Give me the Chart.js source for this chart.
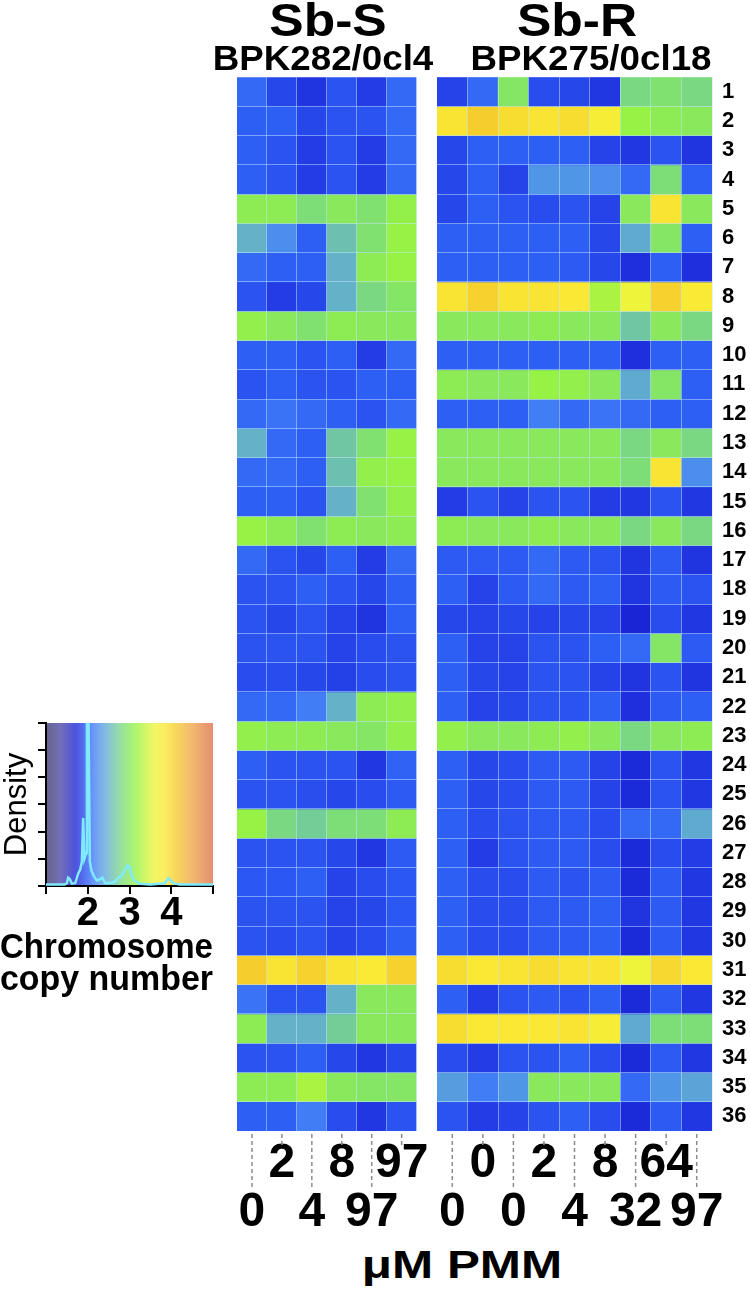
<!DOCTYPE html>
<html>
<head>
<meta charset="utf-8">
<script src="https://cdn.jsdelivr.net/npm/chart.js@4.4.1/dist/chart.umd.min.js"></script>
<style>
  html, body { margin: 0; padding: 0; background: #fff; }
  body { width: 750px; height: 1298px; position: relative; overflow: hidden; font-family: "Liberation Sans", Arial, sans-serif; }
  canvas { position: absolute; }
  .head { position: absolute; font-weight: bold; color: #000; white-space: nowrap; text-align: center; }
</style>
</head>
<body>
<canvas id="density" width="236" height="300" style="left:0px;top:700px"></canvas>
<canvas id="hmS" width="211" height="1194" style="left:227px;top:47px"></canvas>
<canvas id="hmR" width="323" height="1194" style="left:427px;top:47px"></canvas>

<div class="head" style="left:228px;top:-3px;width:200px;font-size:46px;line-height:46px;transform:scaleX(1.12)">Sb-S</div>
<div class="head" style="left:477px;top:-3px;width:200px;font-size:46px;line-height:46px;transform:scaleX(1.12)">Sb-R</div>
<div class="head" style="left:193px;top:40px;width:260px;font-size:35px;line-height:35px;transform:scaleX(1.05)">BPK282/0cl4</div>
<div class="head" style="left:461px;top:40px;width:260px;font-size:35px;line-height:35px;transform:scaleX(1.05)">BPK275/0cl18</div>
<div class="head" style="left:312px;top:1246px;width:300px;font-size:38px;line-height:38px;transform:scaleX(1.3)">μM PMM</div>

<script>
// drug concentration of each column (µM PMM)
const concS = ["0", "2", "4", "8", "97", "97"];
const concR = ["0", "0", "0", "2", "4", "8", "32", "64", "97"];
const chromosomes = Array.from({ length: 36 }, (_, i) => String(i + 1));

// estimated chromosome copy number, one row per chromosome
const sbS = [
  [2.05, 1.9, 1.8, 1.95, 1.85, 2.05],
  [2.0, 2.0, 1.9, 1.95, 1.95, 2.05],
  [2.0, 1.95, 1.85, 1.95, 1.85, 2.05],
  [2.0, 1.95, 1.85, 1.95, 1.85, 2.05],
  [3.05, 3.05, 2.85, 3.0, 2.9, 3.12],
  [2.5, 2.25, 2.0, 2.6, 2.9, 3.15],
  [2.05, 2.0, 2.0, 2.5, 3.05, 3.15],
  [1.95, 1.85, 1.9, 2.5, 2.8, 2.95],
  [3.1, 3.0, 2.9, 3.05, 3.0, 3.0],
  [2.0, 2.0, 1.95, 2.0, 1.85, 2.05],
  [1.95, 2.0, 1.95, 1.95, 2.0, 2.0],
  [2.05, 2.1, 2.05, 2.0, 1.95, 2.05],
  [2.5, 2.05, 2.0, 2.65, 2.9, 3.15],
  [2.05, 2.05, 2.0, 2.6, 3.1, 3.15],
  [2.0, 2.0, 1.95, 2.5, 2.9, 3.1],
  [3.15, 3.05, 2.9, 3.05, 3.0, 3.05],
  [2.05, 1.95, 1.9, 2.0, 1.85, 2.05],
  [1.95, 1.95, 2.0, 1.95, 1.9, 2.0],
  [1.95, 1.9, 1.95, 1.88, 1.8, 2.0],
  [1.95, 1.95, 1.95, 1.88, 1.92, 1.95],
  [1.92, 1.92, 1.9, 1.87, 1.92, 1.95],
  [2.05, 2.05, 2.15, 2.5, 3.05, 3.1],
  [3.1, 3.05, 3.05, 3.0, 2.95, 3.1],
  [2.0, 1.95, 1.95, 1.95, 1.82, 2.02],
  [1.95, 1.95, 1.93, 1.9, 1.92, 1.98],
  [3.15, 2.8, 2.7, 2.85, 2.85, 3.05],
  [1.95, 1.95, 1.95, 1.9, 1.82, 1.98],
  [1.97, 1.97, 2.0, 1.88, 1.92, 1.97],
  [1.95, 1.95, 1.95, 1.88, 1.9, 1.97],
  [1.95, 1.92, 1.95, 1.88, 1.92, 2.0],
  [4.1, 3.9, 4.05, 3.9, 3.8, 4.05],
  [2.1, 1.95, 1.95, 2.5, 3.0, 3.0],
  [3.05, 2.5, 2.5, 2.7, 3.0, 3.0],
  [1.95, 1.95, 2.0, 1.9, 1.82, 1.9],
  [3.05, 3.05, 3.25, 3.0, 2.95, 2.95],
  [2.0, 2.0, 2.15, 1.92, 1.82, 1.95],
];
const sbR = [
  [1.88, 2.05, 2.95, 1.92, 1.9, 1.82, 2.8, 2.9, 2.8],
  [3.9, 4.1, 3.95, 3.9, 3.95, 3.75, 3.15, 3.05, 3.0],
  [1.9, 2.0, 2.0, 2.0, 2.0, 1.88, 1.82, 1.95, 1.8],
  [1.9, 2.0, 1.88, 2.3, 2.3, 2.25, 2.05, 2.85, 2.0],
  [1.9, 2.0, 1.95, 1.92, 1.95, 1.88, 3.0, 3.9, 3.0],
  [2.0, 2.0, 2.0, 2.0, 2.0, 1.9, 2.45, 2.95, 2.0],
  [2.0, 2.0, 2.0, 2.0, 1.98, 1.9, 1.78, 2.0, 1.78],
  [3.9, 4.05, 3.9, 3.9, 3.85, 3.25, 3.6, 4.05, 3.8],
  [3.0, 3.0, 3.0, 3.05, 3.0, 3.0, 2.65, 3.0, 2.8],
  [2.0, 2.0, 2.0, 2.0, 2.0, 2.0, 1.78, 2.0, 2.0],
  [3.05, 3.0, 3.0, 3.15, 3.1, 3.0, 2.45, 2.95, 2.0],
  [2.0, 2.0, 2.0, 2.15, 2.05, 2.1, 2.05, 2.0, 2.0],
  [3.0, 3.0, 3.0, 3.0, 3.0, 3.0, 2.8, 3.0, 2.8],
  [3.0, 3.0, 3.0, 3.0, 3.0, 3.0, 2.85, 3.9, 2.25],
  [1.85, 1.95, 1.88, 1.95, 1.95, 1.85, 1.82, 1.95, 1.82],
  [3.05, 3.0, 3.0, 3.05, 3.0, 3.0, 2.8, 3.0, 2.8],
  [1.98, 1.98, 1.98, 2.05, 1.98, 1.95, 1.8, 1.98, 1.8],
  [2.0, 1.88, 1.98, 2.05, 1.98, 2.0, 1.8, 1.98, 1.95],
  [1.9, 1.88, 1.9, 1.88, 1.9, 1.88, 1.72, 1.92, 1.82],
  [2.0, 1.88, 1.88, 1.95, 1.95, 2.0, 2.05, 2.95, 1.98],
  [2.0, 1.9, 1.88, 1.95, 1.95, 1.88, 1.8, 1.95, 1.8],
  [2.0, 1.88, 1.9, 1.95, 1.95, 2.0, 1.78, 1.98, 2.0],
  [3.1, 3.0, 3.0, 3.05, 3.1, 3.0, 2.8, 3.0, 3.05],
  [2.0, 1.9, 1.92, 1.98, 1.98, 1.88, 1.75, 1.95, 1.82],
  [2.0, 1.9, 1.92, 1.98, 1.98, 1.88, 1.75, 1.95, 1.82],
  [2.0, 1.92, 1.95, 1.98, 1.98, 1.92, 2.05, 2.05, 2.45],
  [2.0, 1.85, 1.95, 1.98, 1.98, 1.92, 1.75, 1.92, 1.85],
  [2.0, 1.92, 1.92, 1.98, 1.95, 1.98, 1.75, 1.98, 1.82],
  [2.0, 1.92, 1.92, 1.98, 1.98, 2.0, 1.8, 1.98, 1.82],
  [2.0, 1.92, 1.92, 1.98, 1.98, 2.0, 1.75, 1.98, 1.82],
  [3.95, 3.85, 3.9, 3.95, 3.9, 3.9, 3.6, 4.0, 3.85],
  [2.0, 1.85, 1.95, 1.98, 1.95, 2.0, 1.75, 1.98, 1.82],
  [3.95, 3.85, 3.85, 3.85, 3.9, 3.75, 2.45, 2.85, 2.85],
  [1.92, 1.85, 1.95, 1.95, 2.0, 1.92, 1.75, 1.98, 1.82],
  [2.35, 2.15, 2.3, 3.0, 3.0, 3.0, 2.05, 2.3, 2.4],
  [1.95, 1.85, 1.88, 1.95, 2.0, 1.92, 1.75, 1.98, 1.82],
];

// density of copy number (inset)
const cnTicks = ["", "2", "3", "4", ""];
const densX = [1.0, 1.45, 1.5, 1.53, 1.57, 1.62, 1.7, 1.77, 1.82, 1.86, 1.89, 1.92, 1.96, 1.98, 2.0, 2.02, 2.05, 2.09, 2.15, 2.22, 2.3, 2.35, 2.42, 2.55, 2.65, 2.73, 2.8, 2.88, 2.95, 3.0, 3.05, 3.12, 3.25, 3.5, 3.7, 3.85, 3.93, 3.97, 4.05, 4.2, 4.6, 5.0];
const densY = [0.05, 0.05, 0.1, 0.3, 0.25, 0.08, 0.1, 0.45, 0.6, 0.9, 2.5, 1.0, 1.2, 6.5, 9, 6, 0.9, 0.55, 0.35, 0.2, 0.25, 0.3, 0.1, 0.12, 0.15, 0.3, 0.35, 0.55, 0.75, 0.7, 0.4, 0.2, 0.08, 0.05, 0.08, 0.1, 0.28, 0.22, 0.1, 0.05, 0.05, 0.05];

// colour scale: copy number -> rgb
const cmapStops = [
  [1.0, [58, 56, 105]],
  [1.35, [75, 70, 165]],
  [1.7, [25, 35, 210]],
  [1.85, [35, 60, 230]],
  [2.0, [45, 95, 245]],
  [2.15, [65, 125, 245]],
  [2.3, [80, 150, 230]],
  [2.5, [100, 178, 200]],
  [2.7, [115, 205, 150]],
  [2.85, [125, 222, 120]],
  [3.0, [137, 232, 92]],
  [3.15, [150, 242, 68]],
  [3.4, [200, 245, 60]],
  [3.6, [238, 244, 58]],
  [3.85, [250, 232, 52]],
  [4.1, [245, 205, 45]],
  [4.5, [238, 165, 70]],
  [5.0, [222, 110, 70]],
];

function cnRgb(v) {
  if (v <= cmapStops[0][0]) return cmapStops[0][1];
  for (let i = 1; i < cmapStops.length; i++) {
    const [v1, c1] = cmapStops[i];
    if (v <= v1) {
      const [v0, c0] = cmapStops[i - 1];
      const t = (v - v0) / (v1 - v0);
      return c0.map((c, k) => Math.round(c + (c1[k] - c) * t));
    }
  }
  return cmapStops[cmapStops.length - 1][1];
}
const cnColor = (v, wash = 0) => {
  const c = cnRgb(v).map((x) => Math.round(x + (255 - x) * wash));
  return `rgb(${c[0]},${c[1]},${c[2]})`;
};

Chart.defaults.font.family = "'Liberation Sans', Arial, sans-serif";
Chart.defaults.color = "#000";
Chart.defaults.animation = false;

const GRID = "rgba(200,230,255,0.5)";
const NONE = "rgba(0,0,0,0)";

// dashed stems from heatmap down to the staggered concentration labels
const stemTicks = {
  id: "stemTicks",
  afterDraw(chart) {
    const sx = chart.scales.x;
    const ctx = chart.ctx;
    const y0 = chart.chartArea.bottom + 3;
    ctx.save();
    ctx.strokeStyle = "#8c8c8c";
    ctx.lineWidth = 1.5;
    ctx.setLineDash([4, 3]);
    sx.ticks.forEach((t, i) => {
      const x = sx.getPixelForTick(i);
      ctx.beginPath();
      ctx.moveTo(x, y0);
      ctx.lineTo(x, y0 + (i % 2 === 0 ? 55 : 11));
      ctx.stroke();
    });
    ctx.restore();
  },
};

function renderHeatmap(canvasId, cols, values, showRows, padding) {
  const n = cols.length;
  const datasets = values.map((row) => ({
    data: cols.map(() => 1),
    backgroundColor: row.map((v) => cnColor(v)),
    borderWidth: 0,
    barPercentage: 1,
    categoryPercentage: 1,
  }));
  const scales = {
    x: {
      stacked: true,
      grid: {
        z: 1,
        offset: true,
        drawTicks: false,
        color: (c) => (c.index === 0 || c.index === n ? NONE : GRID),
        lineWidth: 1,
      },
      border: { display: false },
      ticks: {
        autoSkip: false,
        maxRotation: 0,
        minRotation: 0,
        padding: 8,
        font: { size: 48, weight: "bold", lineHeight: 1.02 },
        callback: (v, i) => (i % 2 === 0 ? [" ", cols[i]] : [cols[i], " "]),
      },
      afterFit: (s) => { s.height = 110; },
    },
    y: {
      type: "linear",
      stacked: true,
      reverse: true,
      min: 0,
      max: values.length,
      position: "left",
      grid: {
        z: 1,
        drawTicks: false,
        color: (c) => (!c.tick || c.tick.value === 0 || c.tick.value === values.length ? NONE : GRID),
        lineWidth: 1,
      },
      border: { display: false },
      ticks: { display: false, stepSize: 1 },
      afterFit: (s) => { s.width = 0; },
    },
  };
  if (showRows) {
    scales.yl = {
      type: "category",
      labels: chromosomes,
      offset: true,
      position: "right",
      grid: { display: false, drawTicks: false },
      border: { display: false },
      ticks: { padding: 10, autoSkip: false, font: { size: 22, weight: "bold" } },
      afterFit: (s) => { s.width = 38; },
    };
  }
  new Chart(document.getElementById(canvasId), {
    type: "bar",
    data: { labels: cols, datasets },
    options: {
      responsive: false,
      layout: { padding },
      plugins: { legend: { display: false }, tooltip: { enabled: false } },
      scales,
    },
    plugins: [stemTicks],
  });
}

renderHeatmap("hmS", concS, sbS, false, { left: 10, right: 20, top: 30, bottom: 0 });
renderHeatmap("hmR", concR, sbR, true, { left: 10, right: 0, top: 30, bottom: 0 });

// colour-scale background of the inset, following the x scale
const colourBand = {
  id: "colourBand",
  beforeDraw(chart) {
    const a = chart.chartArea;
    const sx = chart.scales.x;
    const ctx = chart.ctx;
    const g = ctx.createLinearGradient(a.left, 0, a.right, 0);
    cmapStops.forEach(([v]) => {
      const t = (sx.getPixelForValue(v) - a.left) / (a.right - a.left);
      if (t >= 0 && t <= 1) g.addColorStop(t, cnColor(v, 0.22));
    });
    ctx.save();
    ctx.fillStyle = g;
    ctx.fillRect(a.left, a.top, a.right - a.left, a.bottom - a.top);
    ctx.restore();
  },
};

new Chart(document.getElementById("density"), {
  type: "scatter",
  data: {
    datasets: [
      {
        data: densX.map((x, i) => ({ x, y: densY[i] })),
        showLine: true,
        borderColor: "#80eaff",
        borderWidth: 2.5,
        pointRadius: 0,
        tension: 0,
      },
    ],
  },
  options: {
    responsive: false,
    layout: { padding: { left: 0, right: 23, top: 23, bottom: 3 } },
    plugins: {
      legend: { display: false },
      tooltip: { enabled: false },
      title: {
        display: true,
        position: "bottom",
        text: ["Chromosome", "copy number"],
        font: { size: 35, weight: "bold", lineHeight: 0.93 },
        padding: { top: 0, bottom: 0 },
        color: "#000",
      },
    },
    scales: {
      x: {
        type: "linear",
        min: 1,
        max: 5,
        grid: { drawOnChartArea: false, drawTicks: true, tickLength: 8, color: "#000", lineWidth: 2 },
        border: { display: true, color: "#000", width: 2 },
        ticks: {
          stepSize: 1,
          padding: 0,
          font: { size: 40, weight: "bold", lineHeight: 1 },
          callback: (v, i) => cnTicks[i],
        },
        afterFit: (s) => { s.height = 46; },
      },
      y: {
        min: 0,
        max: 6,
        grid: { drawOnChartArea: false, drawTicks: true, tickLength: 8, color: "#000", lineWidth: 2 },
        border: { display: true, color: "#000", width: 2 },
        ticks: { stepSize: 1, callback: () => "", font: { size: 1 } },
        title: {
          display: true,
          text: "Density",
          font: { size: 31, lineHeight: 1 },
          padding: { top: 2, bottom: 0 },
        },
        afterFit: (s) => { s.width = 46; },
      },
    },
  },
  plugins: [colourBand],
});
</script>
</body>
</html>
